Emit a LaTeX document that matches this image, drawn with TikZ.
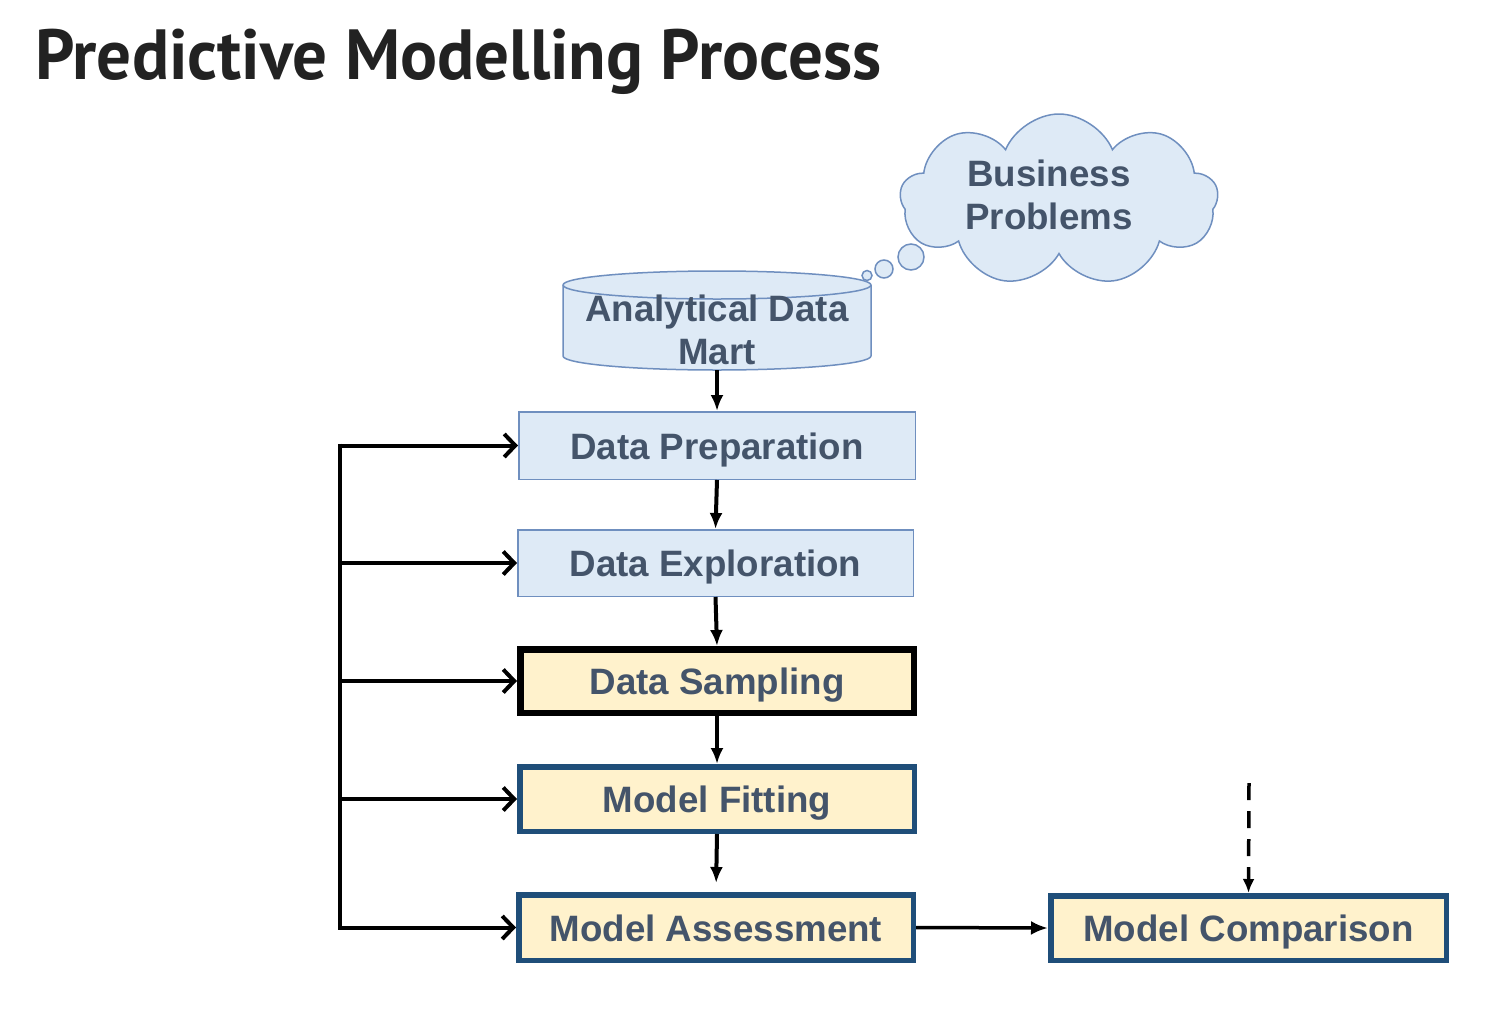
\documentclass[tikz,border=0pt]{standalone}
\usepackage{fontspec}
\setmainfont{Liberation Sans}
\newfontfamily\titlefont{PT Sans}
\usetikzlibrary{arrows.meta,shapes.symbols}
\definecolor{txt}{HTML}{44546A}
\definecolor{lblue}{HTML}{DEEAF6}
\definecolor{lbord}{HTML}{6F8FBF}
\definecolor{lyel}{HTML}{FFF2CC}
\definecolor{dblue}{HTML}{1F4E79}
\definecolor{ttl}{HTML}{222222}
\begin{document}
\begin{tikzpicture}[x=1pt,y=1pt,yscale=-1,
  lbl/.style={font=\fontsize{36.7}{43}\selectfont\bfseries, text=txt},
  boxlbl/.style={lbl, text height=27pt, text depth=0pt},
  lbox/.style={boxlbl, draw=lbord, line width=1.5pt, fill=lblue, inner sep=0pt},
  ybox/.style={boxlbl, draw=dblue, line width=5.5pt, fill=lyel, inner sep=0pt, minimum width=394.5pt, minimum height=64.5pt},
  sbox/.style={ybox, draw=black, line width=6.5pt, minimum width=393.5pt, minimum height=63.5pt},
  flow/.style={line width=4pt, -{Latex[length=16pt,width=13pt]}},
  fb/.style={line width=4pt, -{Straight Barb[length=11pt,width=23pt,line width=4pt]}},
  fbline/.style={line width=4pt},
]
\useasboundingbox (0,0) rectangle (1489,1015);

% title
\node[anchor=base west, inner sep=0pt, text=ttl] (title) at (35,79)
  {\scalebox{0.972}[1]{\titlefont\bfseries\fontsize{71}{80}\selectfont Predictive Modelling Process}};

% cloud
\node[cloud, cloud puffs=9, cloud puff arc=135, draw=lbord, line width=1.5pt, fill=lblue,
      minimum width=318pt, minimum height=172pt, inner sep=0pt] (cloud) at (1059,200) {};
\node[lbl, align=center, inner sep=0pt] (bp) at (1049,195) {Business\\Problems};
\draw[draw=lbord, line width=1.5pt, fill=lblue] (911,257) circle (13);
\draw[draw=lbord, line width=1.5pt, fill=lblue] (884,269) circle (9);
\draw[draw=lbord, line width=1.5pt, fill=lblue] (867,275.5) circle (5);

% cylinder
\draw[draw=lbord, line width=1.5pt, fill=lblue]
  (563,285) -- (563,356) arc (180:0:154 and 14) -- (871,285) arc (0:-180:154 and 14) -- cycle;
\draw[draw=lbord, line width=1.5pt] (563,285) arc (180:0:154 and 14);
\node[lbl, align=center, inner xsep=0pt, inner ysep=5pt] (adm) at (717,330) {Analytical Data\\Mart};

% boxes
\node[lbox, minimum width=396.5pt, minimum height=67.5pt] (dp) at (717,445.5) {Data Preparation};
\node[lbox, minimum width=395.5pt, minimum height=66.5pt] (de) at (715.5,563) {Data Exploration};
\node[sbox] (ds) at (717,681) {Data Sampling};
\node[ybox] (mf) at (717,799) {Model Fitting};
\node[ybox, minimum height=65.5pt] (ma) at (716,927.5) {Model Assessment};
\node[ybox, minimum width=395.5pt] (mc) at (1248.5,928) {Model Comparison};

% vertical flow
\draw[flow] (adm.south) -- (dp.north);
\draw[flow] (dp.south) -- (de.north);
\draw[flow] (de.south) -- (ds.north);
\draw[flow] (ds.south) -- (mf.north);
\draw[flow, shorten >=9pt] (mf.south) -- (ma.north);
\draw[line width=3.5pt, -{Latex[length=17pt,width=14pt]}] (ma.east) -- (mc.west);

% dashed input
\coordinate (dtop) at (1249,783);
\draw[line width=3.5pt, dash pattern=on 17pt off 11pt, -{Latex[length=14pt,width=12pt]}] (dtop) -- (mc.north);

% feedback loop
\coordinate (fbtop) at (340,445.5);
\coordinate (fbbot) at (340,927.5);
\draw[fbline] ([yshift=-2pt]fbtop) -- ([yshift=2pt]fbbot);
\draw[fb] ([xshift=-2pt]fbtop) -- (dp.west);
\draw[fb] (fbtop |- de.west) -- (de.west);
\draw[fb] (fbtop |- ds.west) -- (ds.west);
\draw[fb] (fbtop |- mf.west) -- (mf.west);
\draw[fb] ([xshift=-2pt]fbbot) -- (ma.west);
\end{tikzpicture}
\end{document}
